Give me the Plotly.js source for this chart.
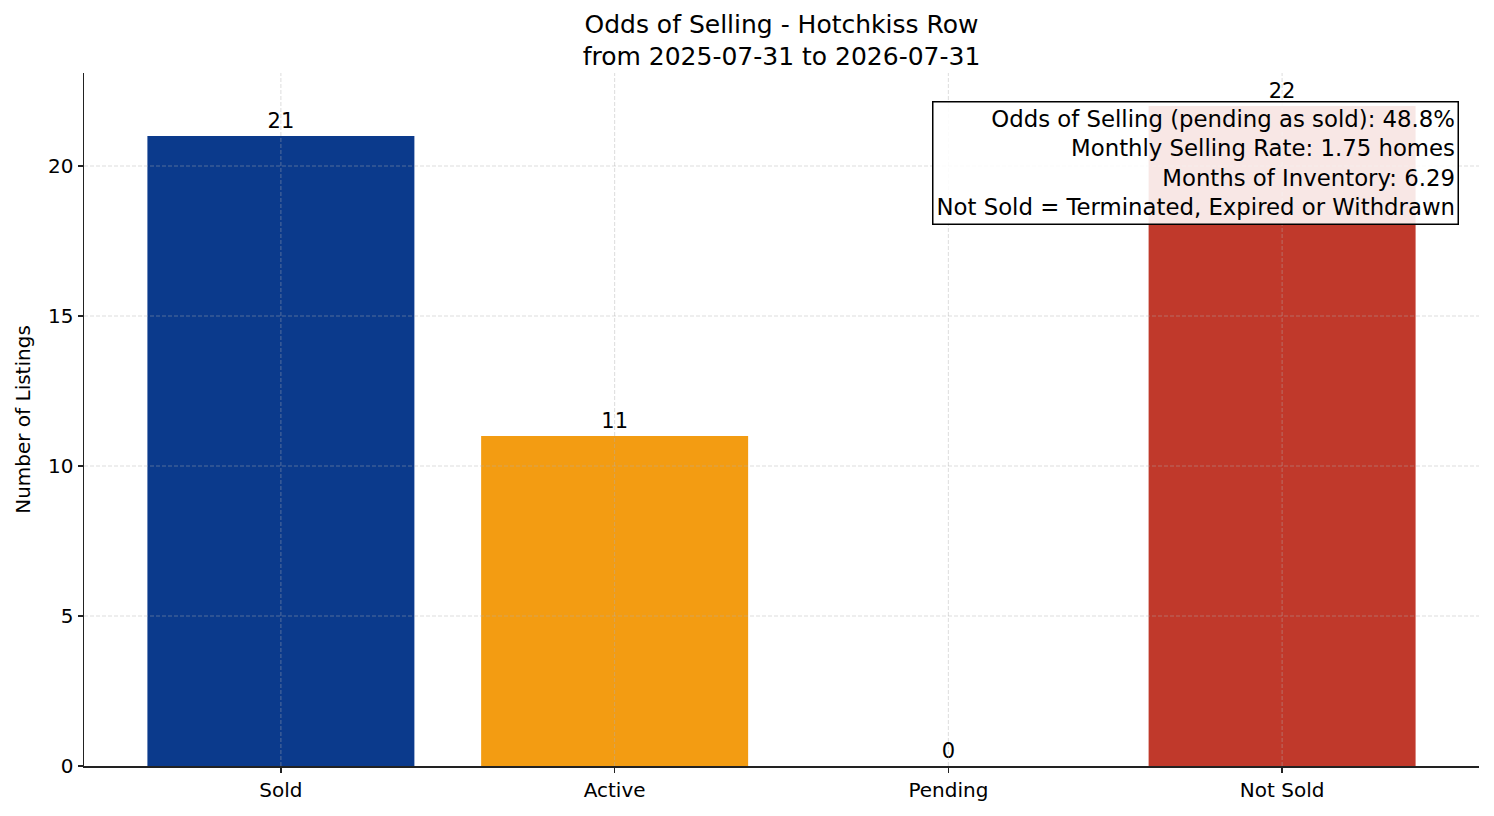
<!DOCTYPE html>
<html>
<head>
<meta charset="utf-8">
<script src="https://cdn.plot.ly/plotly-3.0.1.min.js"></script>
<style>
  body { margin: 0; background: #fff; }
  #chart { width: 1494px; height: 816px; }
</style>
</head>
<body>
<div id="chart"></div>
<script>
var categories = ['Sold', 'Active', 'Pending', 'Not Sold'];
var counts = [21, 11, 0, 22];
var barColors = ['#0b3a8c', '#f39c12', '#9b59b6', '#c0392b'];
var yTicks = [0, 5, 10, 15, 20];
var statLines = [
  'Odds of Selling (pending as sold): 48.8%',
  'Monthly Selling Rate: 1.75 homes',
  'Months of Inventory: 6.29',
  'Not Sold = Terminated, Expired or Withdrawn'
];

var font = 'DejaVu Sans, sans-serif';

var trace = {
  type: 'bar',
  x: categories,
  y: counts,
  width: 0.8,
  marker: { color: barColors, line: { width: 0 } },
  text: counts.map(String),
  textposition: 'outside',
  cliponaxis: false,
  textfont: { family: font, size: 21, color: '#000' },
  hoverinfo: 'x+y'
};

// grid lines drawn over the bars, like the original
var gridLine = { color: 'rgba(176,176,176,0.55)', width: 0.8, dash: '4px,2px' };
var grid = [];
yTicks.slice(1).forEach(function (v) {
  grid.push({ type: 'line', xref: 'paper', x0: 0, x1: 1, yref: 'y', y0: v, y1: v,
    line: gridLine, layer: 'above' });
});
categories.forEach(function (c, i) {
  grid.push({ type: 'line', xref: 'x', x0: i, x1: i, yref: 'paper', y0: 0, y1: 1,
    line: gridLine, layer: 'above' });
});

var layout = {
  width: 1494,
  height: 816,
  paper_bgcolor: '#fff',
  plot_bgcolor: '#fff',
  margin: { l: 84, r: 15, t: 73, b: 50 },
  showlegend: false,
  font: { family: font, size: 20, color: '#000' },
  title: {
    text: 'Odds of Selling - Hotchkiss Row<br>from 2025-07-31 to 2026-07-31',
    font: { family: font, size: 25, color: '#000' },
    x: 0.5, xanchor: 'center', xref: 'paper',
    yref: 'container', y: 0.96, yanchor: 'top'
  },
  xaxis: {
    type: 'category',
    range: [-0.59, 3.59],
    showgrid: false,
    zeroline: false,
    showline: true, linecolor: '#222', linewidth: 1.5,
    ticks: 'outside', ticklen: 5, tickwidth: 1.3, tickcolor: '#222',
    tickfont: { family: font, size: 20, color: '#000' }
  },
  yaxis: {
    range: [0, 23.1],
    tickvals: yTicks,
    showgrid: false,
    zeroline: false,
    showline: true, linecolor: '#222', linewidth: 1.5,
    ticks: 'outside', ticklen: 5, tickwidth: 1.3, tickcolor: '#222',
    tickfont: { family: font, size: 20, color: '#000' },
    title: { text: 'Number of Listings', font: { family: font, size: 20, color: '#000' }, standoff: 12 }
  },
  shapes: grid,
  annotations: [{
    xref: 'paper', yref: 'paper',
    x: 0.9857, y: 0.9596, xanchor: 'right', yanchor: 'top',
    text: statLines.join('<br>'),
    align: 'right',
    showarrow: false,
    font: { family: font, size: 22.8, color: '#000' },
    bgcolor: 'rgba(255,255,255,0.88)',
    bordercolor: '#000',
    borderwidth: 1.5,
    borderpad: 3
  }]
};

Plotly.newPlot('chart', [trace], layout, { displayModeBar: false, staticPlot: true });
</script>
</body>
</html>
